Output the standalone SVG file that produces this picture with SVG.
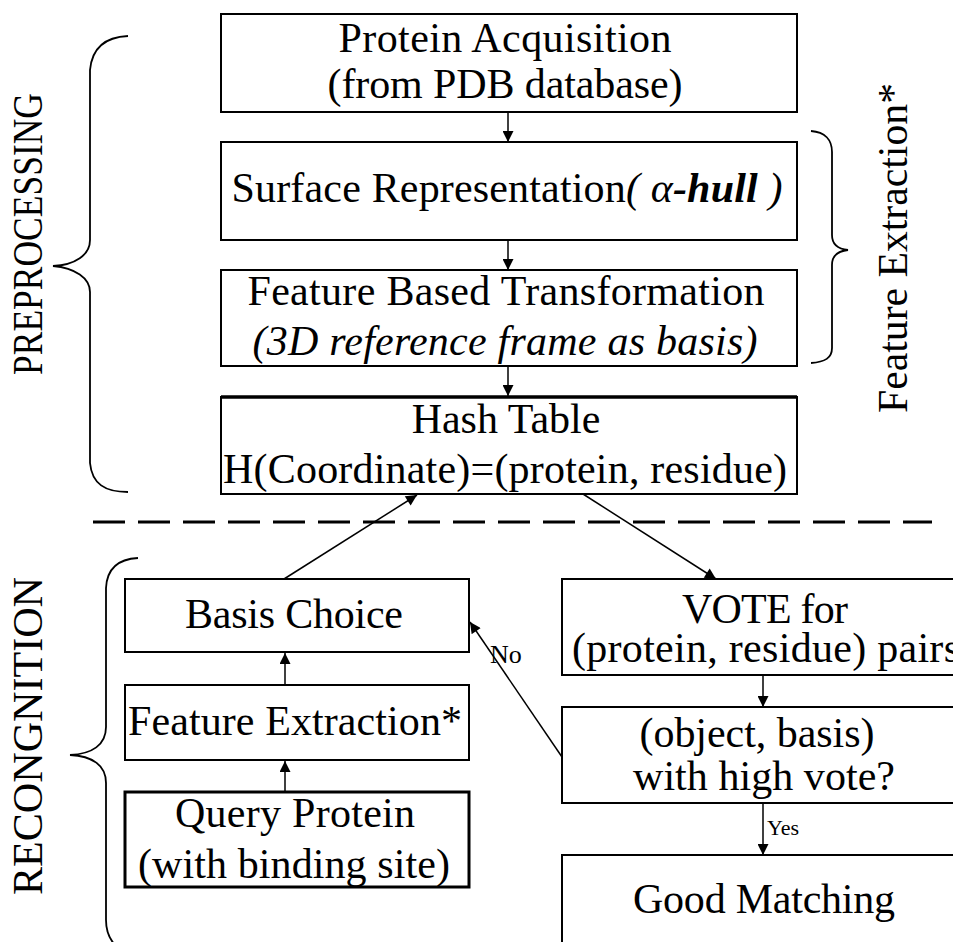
<svg xmlns="http://www.w3.org/2000/svg" width="953" height="942" viewBox="0 0 953 942">
<style>
  .box { fill: #ffffff; stroke: #000000; stroke-width: 2; }
  .thick { stroke-width: 3; }
  .t { font-family: "Liberation Serif", "Times New Roman", serif; font-size: 42px; fill: #000000; text-anchor: middle; }
  .it { font-style: italic; }
  .lbl { font-family: "Liberation Serif", "Times New Roman", serif; fill: #000000; }
  .con { fill: none; stroke: #000000; stroke-width: 1.5; marker-end: url(#arr); }
  .brace { fill: none; stroke: #000000; stroke-width: 1.8; }
</style>
<defs>
  <marker id="arr" viewBox="0 0 10 10" refX="10" refY="5" markerWidth="12" markerHeight="11" markerUnits="userSpaceOnUse" orient="auto">
    <path d="M0,0 L10,5 L0,10 z" fill="#000000"/>
  </marker>
</defs>
<rect width="953" height="942" fill="#ffffff"/>

<g id="labels">
  <text class="lbl" font-size="42" transform="translate(42,375) rotate(-90)" textLength="282" lengthAdjust="spacingAndGlyphs">PREPROCESSING</text>
  <text class="lbl" font-size="42" transform="translate(42,895) rotate(-90)" textLength="318" lengthAdjust="spacingAndGlyphs">RECONGNITION</text>
  <text class="lbl" font-size="42" transform="translate(907,413) rotate(-90)" textLength="330" lengthAdjust="spacingAndGlyphs">Feature Extraction*</text>
</g>

<g id="braces">
  <path class="brace" d="M128,36 C105,37 92,48 90,70 L90,240 C90,255 75,265 53,266 C75,268 90,278 90,292 L90,463 C92,484 105,492 128,492"/>
  <path class="brace" d="M811,131 C825,132 832,140 832,152 L832,235 C832,244 838,249 848,250 C838,251 832,256 832,265 L832,348 C832,358 825,362 811,363"/>
  <path class="brace" d="M138,558 C118,559 107,568 106,588 L106,727 C106,745 92,754 70,755 C92,756 106,765 106,783 L106,920 C106,933 110,940 116,946"/>
</g>

<line id="separator" x1="93" y1="522" x2="932" y2="522" stroke="#000000" stroke-width="3" stroke-dasharray="32 13"/>

<g id="protein-acquisition">
  <rect class="box" x="221" y="14" width="576" height="98"/>
  <text class="t" x="505" y="52" textLength="333">Protein Acquisition</text>
  <text class="t" x="505" y="98" textLength="355">(from PDB database)</text>
</g>

<g id="surface-representation">
  <rect class="box" x="221" y="142" width="576" height="98"/>
  <text class="t" x="507" y="202" textLength="551">Surface Representation<tspan class="it">( α</tspan><tspan class="it" font-weight="bold">-hull</tspan><tspan class="it"> )</tspan></text>
</g>

<g id="feature-transformation">
  <rect class="box" x="221" y="270" width="576" height="96"/>
  <text class="t" x="506" y="305" textLength="517">Feature Based Transformation</text>
  <text class="t it" x="505" y="355" textLength="505">(3D reference frame as basis)</text>
</g>

<g id="hash-table">
  <rect class="box" x="221" y="397" width="576" height="97"/>
  <line x1="221" y1="397" x2="797" y2="397" stroke="#000000" stroke-width="3.5"/>
  <text class="t" x="506" y="433">Hash Table</text>
  <text class="t" x="505" y="483" textLength="564">H(Coordinate)=(protein, residue)</text>
</g>

<g id="basis-choice">
  <rect class="box" x="125" y="579" width="344" height="73"/>
  <text class="t" x="294" y="628" textLength="218">Basis Choice</text>
</g>

<g id="feature-extraction">
  <rect class="box" x="125" y="685" width="344" height="75"/>
  <text class="t" x="295" y="735" textLength="334">Feature Extraction*</text>
</g>

<g id="query-protein">
  <rect class="box thick" x="125" y="792" width="344" height="95"/>
  <text class="t" x="295" y="827" textLength="240">Query Protein</text>
  <text class="t" x="294" y="878" textLength="312">(with binding site)</text>
</g>

<g id="vote">
  <rect class="box" x="562" y="579" width="410" height="96"/>
  <text class="t" x="765" y="623" textLength="166">VOTE for</text>
  <text class="t" x="766" y="662" textLength="388">(protein, residue) pairs</text>
</g>

<g id="high-vote">
  <rect class="box" x="562" y="707" width="410" height="96"/>
  <text class="t" x="757" y="747" textLength="235">(object, basis)</text>
  <text class="t" x="764" y="790" textLength="262">with high vote?</text>
</g>

<g id="good-matching">
  <rect class="box" x="562" y="855" width="410" height="100"/>
  <text class="t" x="764" y="913" textLength="262">Good Matching</text>
</g>

<g id="connectors">
  <line class="con" x1="508" y1="112" x2="508" y2="142"/>
  <line class="con" x1="508" y1="240" x2="508" y2="270"/>
  <line class="con" x1="508" y1="366" x2="508" y2="396"/>
  <line class="con" x1="583" y1="494" x2="716" y2="579"/>
  <line class="con" x1="284" y1="579" x2="417" y2="495"/>
  <line class="con" x1="285" y1="685" x2="285" y2="653"/>
  <line class="con" x1="285" y1="792" x2="285" y2="761"/>
  <line class="con" x1="763" y1="675" x2="763" y2="707"/>
  <line class="con" x1="763" y1="803" x2="763" y2="855"/>
  <line class="con" x1="562" y1="757" x2="470" y2="622"/>
  <text class="lbl" font-size="26" x="490" y="663">No</text>
  <text class="lbl" font-size="22" x="767" y="835">Yes</text>
</g>
</svg>
